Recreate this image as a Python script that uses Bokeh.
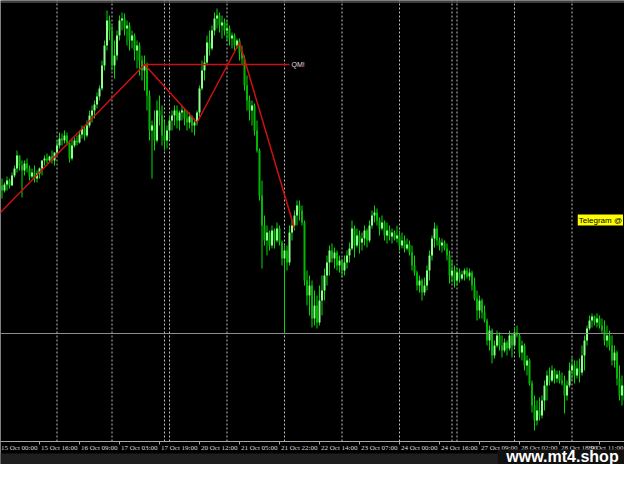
from bokeh.plotting import figure
from bokeh.models import Range1d, Span, BoxAnnotation, Label, ColumnDataSource
from bokeh.embed import file_html
from bokeh.resources import INLINE
from bokeh.core.properties import value

# ---------------- data (H1 bars, index 0 = 15 Oct 00:00) ----------------
bar_index = list(range(257))

open_ = [4208,4215,4210,4216,4220,4215,4225,4232,4245,4235,
         4230,4237,4232,4224,4228,4222,4227,4232,4240,4242,
         4240,4244,4240,4248,4255,4262,4260,4265,4258,4242,
         4255,4260,4258,4266,4272,4265,4275,4285,4290,4296,
         4304,4312,4335,4355,4380,4370,4335,4345,4365,4380,
         4382,4372,4375,4360,4365,4350,4355,4340,4330,4335,
         4305,4270,4275,4260,4290,4285,4265,4260,4270,4280,
         4285,4290,4280,4288,4290,4282,4278,4284,4275,4278,
         4288,4312,4330,4338,4358,4352,4370,4382,4385,4375,
         4378,4370,4372,4362,4365,4355,4360,4348,4342,4315,
         4300,4290,4295,4270,4250,4205,4175,4160,4168,4155,
         4170,4160,4172,4158,4142,4150,4138,4168,4175,4185,
         4195,4190,4178,4120,4105,4115,4082,4095,4078,4100,
         4110,4125,4138,4150,4142,4148,4135,4140,4130,4138,
         4145,4152,4172,4155,4165,4158,4162,4170,4160,4175,
         4185,4188,4180,4172,4178,4165,4170,4164,4168,4162,
         4165,4155,4160,4152,4156,4148,4135,4128,4115,4120,
         4108,4115,4130,4145,4162,4172,4160,4155,4158,4152,
         4145,4125,4130,4120,4128,4122,4126,4130,4124,4128,
         4115,4102,4090,4100,4088,4080,4060,4070,4045,4055,
         4065,4055,4050,4058,4052,4065,4055,4068,4065,4048,
         4055,4035,4040,4017,3995,3980,3990,3985,4000,4015,
         4025,4020,4030,4022,4026,4020,4017,4005,4015,4030,
         4035,4025,4032,4028,4045,4060,4072,4080,4084,4078,
         4082,4075,4070,4060,4065,4055,4040,4048,4022,4005,
         4015,4000,4010,3998,4008,4025,4000]

high = [4220,4222,4218,4224,4222,4228,4235,4250,4245,4240,
        4240,4242,4235,4232,4235,4230,4233,4240,4245,4247,
        4245,4250,4248,4260,4268,4267,4270,4268,4260,4262,
        4263,4265,4270,4275,4274,4280,4290,4295,4300,4308,
        4315,4340,4360,4390,4385,4375,4360,4370,4385,4388,
        4387,4380,4378,4370,4367,4360,4358,4345,4345,4338,
        4310,4280,4290,4300,4305,4295,4280,4275,4285,4290,
        4295,4295,4290,4295,4292,4290,4288,4285,4282,4290,
        4315,4340,4345,4365,4370,4375,4388,4392,4388,4385,
        4382,4380,4375,4368,4367,4362,4362,4355,4345,4325,
        4305,4300,4297,4280,4252,4220,4185,4175,4170,4175,
        4172,4178,4175,4160,4155,4155,4175,4180,4190,4200,
        4200,4195,4180,4130,4125,4120,4110,4105,4115,4125,
        4132,4145,4155,4157,4153,4150,4145,4142,4145,4150,
        4158,4180,4175,4172,4170,4168,4175,4172,4180,4190,
        4195,4192,4183,4185,4180,4178,4175,4172,4170,4175,
        4170,4168,4165,4162,4160,4155,4145,4130,4125,4122,
        4123,4135,4150,4165,4178,4175,4163,4162,4160,4157,
        4150,4140,4135,4133,4132,4130,4132,4133,4132,4130,
        4123,4110,4105,4102,4095,4082,4075,4072,4060,4070,
        4068,4065,4062,4060,4070,4067,4073,4075,4067,4060,
        4057,4045,4042,4020,4005,4000,4003,4005,4020,4030,
        4033,4035,4032,4030,4030,4028,4025,4020,4038,4043,
        4040,4040,4042,4055,4065,4075,4085,4087,4085,4087,
        4085,4082,4080,4075,4070,4065,4055,4050,4035,4025,
        4022,4020,4018,4020,4030,4035,4040]

low = [4205,4202,4208,4210,4212,4215,4223,4228,4230,4203,
       4225,4228,4220,4222,4218,4218,4222,4225,4235,4237,
       4238,4237,4235,4245,4252,4255,4257,4255,4238,4240,
       4253,4255,4257,4262,4260,4263,4273,4278,4282,4292,
       4300,4310,4330,4350,4360,4330,4322,4340,4360,4370,
       4365,4355,4350,4352,4340,4332,4325,4320,4310,4290,
       4260,4222,4250,4258,4275,4255,4250,4252,4260,4270,
       4275,4272,4270,4280,4275,4270,4272,4268,4265,4275,
       4282,4310,4320,4335,4345,4350,4365,4372,4368,4362,
       4365,4360,4355,4352,4350,4352,4340,4335,4310,4290,
       4280,4275,4265,4248,4200,4132,4155,4145,4150,4152,
       4152,4158,4155,4135,4067,4130,4135,4160,4170,4175,
       4180,4175,4115,4095,4085,4073,4075,4072,4075,4085,
       4100,4115,4125,4138,4132,4130,4128,4123,4125,4132,
       4138,4150,4143,4153,4147,4150,4155,4153,4158,4172,
       4178,4175,4165,4170,4160,4157,4160,4157,4160,4158,
       4150,4152,4148,4150,4145,4130,4125,4110,4108,4100,
       4105,4110,4120,4140,4153,4155,4150,4148,4150,4140,
       4117,4118,4113,4115,4118,4120,4120,4122,4120,4110,
       4100,4080,4082,4082,4078,4055,4050,4037,4042,4053,
       4050,4043,4048,4045,4050,4043,4053,4063,4043,4040,
       4030,4025,4015,3988,3970,3975,3980,3982,3990,4000,
       4015,4018,4017,4018,4017,4015,3987,4000,4013,4020,
       4017,4022,4018,4025,4030,4055,4070,4073,4075,4073,
       4072,4067,4055,4053,4050,4035,4033,4015,4000,3995,
       3993,3998,3990,3996,3995,3990,3998]

close = [4215,4210,4216,4220,4215,4225,4232,4245,4235,4230,
         4237,4232,4224,4228,4222,4227,4232,4240,4242,4240,
         4244,4240,4248,4255,4262,4260,4265,4258,4242,4255,
         4260,4258,4266,4272,4265,4275,4285,4290,4296,4304,
         4312,4335,4355,4380,4370,4335,4345,4365,4380,4382,
         4372,4375,4360,4365,4350,4355,4340,4330,4335,4305,
         4270,4275,4260,4290,4285,4265,4260,4270,4280,4285,
         4290,4280,4288,4290,4282,4278,4284,4275,4278,4288,
         4312,4330,4338,4358,4352,4370,4382,4385,4375,4378,
         4370,4372,4362,4365,4355,4360,4348,4342,4315,4300,
         4290,4295,4270,4250,4205,4175,4160,4168,4155,4170,
         4160,4172,4158,4142,4150,4138,4168,4175,4185,4195,
         4190,4178,4120,4105,4115,4082,4095,4078,4100,4110,
         4125,4138,4150,4142,4148,4135,4140,4130,4138,4145,
         4152,4172,4155,4165,4158,4162,4170,4160,4175,4185,
         4188,4180,4172,4178,4165,4170,4164,4168,4162,4165,
         4155,4160,4152,4156,4148,4135,4128,4115,4120,4108,
         4115,4130,4145,4162,4172,4160,4155,4158,4152,4145,
         4125,4130,4120,4128,4122,4126,4130,4124,4128,4115,
         4102,4090,4100,4088,4080,4060,4070,4045,4055,4065,
         4055,4050,4058,4052,4065,4055,4068,4065,4048,4055,
         4035,4040,4017,3995,3980,3990,3985,4000,4015,4025,
         4020,4030,4022,4026,4020,4017,4005,4015,4030,4035,
         4025,4032,4028,4045,4060,4072,4080,4084,4078,4082,
         4075,4070,4060,4065,4055,4040,4048,4022,4005,4015,
         4000,4010,3998,4008,4025,4000,4030]

tick_bars = [0, 16, 32, 48, 64, 80, 96, 112, 128, 144, 160, 176, 192, 208, 224, 240]
tick_labels = ["15 Oct 00:00", "15 Oct 16:00", "16 Oct 09:00", "17 Oct 03:00",
               "17 Oct 19:00", "20 Oct 12:00", "21 Oct 05:00", "21 Oct 22:00",
               "22 Oct 14:00", "23 Oct 07:00", "24 Oct 00:00", "24 Oct 16:00",
               "27 Oct 09:00", "28 Oct 02:00", "28 Oct 18:00", "29 Oct 11:00"]

separator_bars = [23, 45, 66, 68, 91, 114, 137, 160, 181, 183, 206, 229, 252]

zigzag_bars = [0, 58, 79, 96, 118]
zigzag_prices = [4187, 4336, 4278, 4358, 4172]
qm_bars = [58, 116]
qm_price = 4336
level_price = 4067

# ---------------- style ----------------
BULL = "#8cff8c"
BEAR = "#00b800"
WICK = "#00dc00"
AXIS_Y = 3959       # price at the time axis line
LABEL_Y = 3953
BAND_TOP = 3947
X_END = 250.0

p = figure(width=624, height=464, output_backend="svg", toolbar_location=None,
           x_range=Range1d(0.4, X_END), y_range=Range1d(3936, 4400),
           x_axis_type=None, y_axis_type=None, min_border=0)
p.background_fill_color = "black"
p.border_fill_color = "black"
p.outline_line_color = None
p.grid.visible = False

# chart top border
p.add_layout(Span(location=4398.5, dimension="width", line_color="#7a7a7a", line_width=1))

# period separators
p.segment(x0=separator_bars, x1=separator_bars, y0=[AXIS_Y] * len(separator_bars),
          y1=[4400] * len(separator_bars), line_color="#bdbdbd", line_width=1,
          line_dash="2 2")

# horizontal level
p.add_layout(Span(location=level_price, dimension="width", line_color="#8c8c8c", line_width=1))

# candles
src = ColumnDataSource(dict(
    x=bar_index, h=high, l=low,
    top=[max(o, c) for o, c in zip(open_, close)],
    bottom=[min(o, c) for o, c in zip(open_, close)],
    color=[BULL if c > o else BEAR for o, c in zip(open_, close)],
))
p.segment(x0="x", y0="h", x1="x", y1="l", source=src, line_color=WICK, line_width=1)
p.vbar(x="x", width=0.8, top="top", bottom="bottom", source=src,
       fill_color="color", line_color=None)

# zigzag / QM pattern
p.line(zigzag_bars, zigzag_prices, line_color="#d01010", line_width=1.5)
p.line(qm_bars, [qm_price, qm_price], line_color="#d01010", line_width=1.5)
p.text(x=[qm_bars[1] + 0.8], y=[qm_price], text=["QM!"], text_color="#e6d8d8",
       text_font_size="7px", text_align="left", text_baseline="middle",
       text_font=value("Liberation Sans"))

# time axis
p.add_layout(Span(location=AXIS_Y, dimension="width", line_color="#a8a8a8", line_width=1))
p.segment(x0=tick_bars, x1=tick_bars, y0=[AXIS_Y] * len(tick_bars),
          y1=[AXIS_Y - 3] * len(tick_bars), line_color="#a8a8a8", line_width=1)
p.text(x=[b + 0.6 for b in tick_bars[:-1]], y=[LABEL_Y] * (len(tick_bars) - 1),
       text=tick_labels[:-1], text_color="#dcdcdc", text_font_size="7px",
       text_align="left", text_baseline="middle",
       text_font=value("Liberation Sans Narrow"))
# last label kept inside the visible edge
p.text(x=[X_END - 0.4], y=[LABEL_Y], text=tick_labels[-1:], text_color="#dcdcdc",
       text_font_size="7px", text_align="right", text_baseline="middle",
       text_font=value("Liberation Sans Narrow"))

p.add_layout(BoxAnnotation(top=BAND_TOP, fill_color="#1e1e1e", fill_alpha=1,
                           line_color=None, level="underlay"))

# telegram tag (kept inside the visible edge)
p.add_layout(Label(x=X_END - 0.6, y=4180.5, text="Telegram @", text_color="black",
                   text_font_size="8px", text_font="Liberation Sans",
                   text_align="right", text_baseline="middle",
                   background_fill_color="#ffff00", background_fill_alpha=1, padding=1))

# watermark
p.add_layout(BoxAnnotation(left=199.2, right=252, top=3951, bottom=3930,
                           fill_color="#101010", fill_alpha=1, line_color="#262626",
                           border_radius=4))
p.add_layout(Label(x=225.2, y=3944, text="www.mt4.shop", text_color="white",
                   text_font_size="16px", text_font="Liberation Sans",
                   text_font_style="bold", text_align="center", text_baseline="middle"))

open("out.html", "w").write(file_html(p, INLINE))
